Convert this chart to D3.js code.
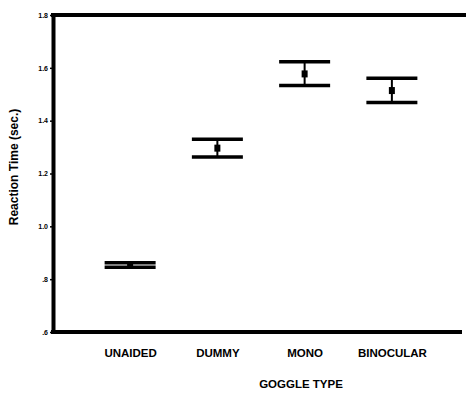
<!DOCTYPE html>
<html><head><meta charset="utf-8">
<script src="https://cdn.jsdelivr.net/npm/d3@7"></script>
<style>body{margin:0;background:#fff}svg{display:block}</style>
</head><body>
<svg id="c" width="466" height="393"></svg>
<script>
const categories = ["UNAIDED","DUMMY","MONO","BINOCULAR"];
const means = [0.855, 1.296, 1.577, 1.514];
const upper = [0.862, 1.330, 1.623, 1.561];
const lower = [0.845, 1.262, 1.533, 1.469];
const yTicks = [0.6, 0.8, 1.0, 1.2, 1.4, 1.6, 1.8];
const yTickLabels = [".6", ".8", "1.0", "1.2", "1.4", "1.6", "1.8"];

(function(){
const svg = d3.select("#c");
const mLeft = 53, mRight = 466, mTop = 15, mBottom = 332;
const y = d3.scaleLinear().domain([0.6, 1.8]).range([mBottom, mTop]);
const x = d3.scalePoint().domain(categories).range([86.5, 435.5]).padding(0.5);
const font = "'Liberation Sans', Arial, sans-serif";

// y axis
const yAxis = d3.axisLeft(y).tickValues(yTicks).tickFormat((d,i)=>yTickLabels[i]).tickSize(3).tickSizeOuter(0);
const gy = svg.append("g").attr("transform", `translate(${mLeft},0)`).call(yAxis);
gy.select(".domain").attr("stroke", "#000").attr("stroke-width", 4);
gy.selectAll(".tick line").attr("stroke-width", 1.5);
gy.selectAll(".tick text").attr("font-family", font).attr("font-size", 7).attr("font-weight", "bold").attr("x", -5);

// top border
svg.append("line").attr("x1", mLeft-2).attr("x2", mRight).attr("y1", mTop).attr("y2", mTop)
  .attr("stroke", "#000").attr("stroke-width", 4);

// x axis
const xAxis = d3.axisBottom(x).tickSize(0).tickSizeOuter(0);
const gx = svg.append("g").attr("transform", `translate(0,${mBottom})`).call(xAxis);
gx.select(".domain").remove();
svg.append("line").attr("x1", mLeft-2).attr("x2", 462).attr("y1", mBottom).attr("y2", mBottom)
  .attr("stroke", "#000").attr("stroke-width", 4);
gx.selectAll(".tick text").attr("font-family", font).attr("font-size", 11.5).attr("font-weight", "bold")
  .attr("dy", 0).attr("y", 25);

// titles
svg.append("text").attr("x", 301).attr("y", 388).attr("text-anchor", "middle")
  .attr("font-family", font).attr("font-size", 11.5).attr("font-weight", "bold").text("GOGGLE TYPE");
svg.append("text").attr("transform", "translate(18,167) rotate(-90)").attr("text-anchor", "middle")
  .attr("font-family", font).attr("font-size", 12).attr("font-weight", "bold").text("Reaction Time (sec.)");

// error bars
const capW = 51;
const g = svg.append("g");
categories.forEach((c, i) => {
  const cx = x(c);
  g.append("line").attr("x1", cx).attr("x2", cx).attr("y1", y(upper[i])).attr("y2", y(lower[i]))
    .attr("stroke", "#000").attr("stroke-width", 2);
  [upper[i], lower[i]].forEach(v => {
    g.append("line").attr("x1", cx - capW/2).attr("x2", cx + capW/2).attr("y1", y(v)).attr("y2", y(v))
      .attr("stroke", "#000").attr("stroke-width", 3.5);
  });
  g.append("rect").attr("x", cx - 3).attr("y", y(means[i]) - 3.5).attr("width", 6).attr("height", 7).attr("fill", "#000");
});
})();
</script>
</body></html>
